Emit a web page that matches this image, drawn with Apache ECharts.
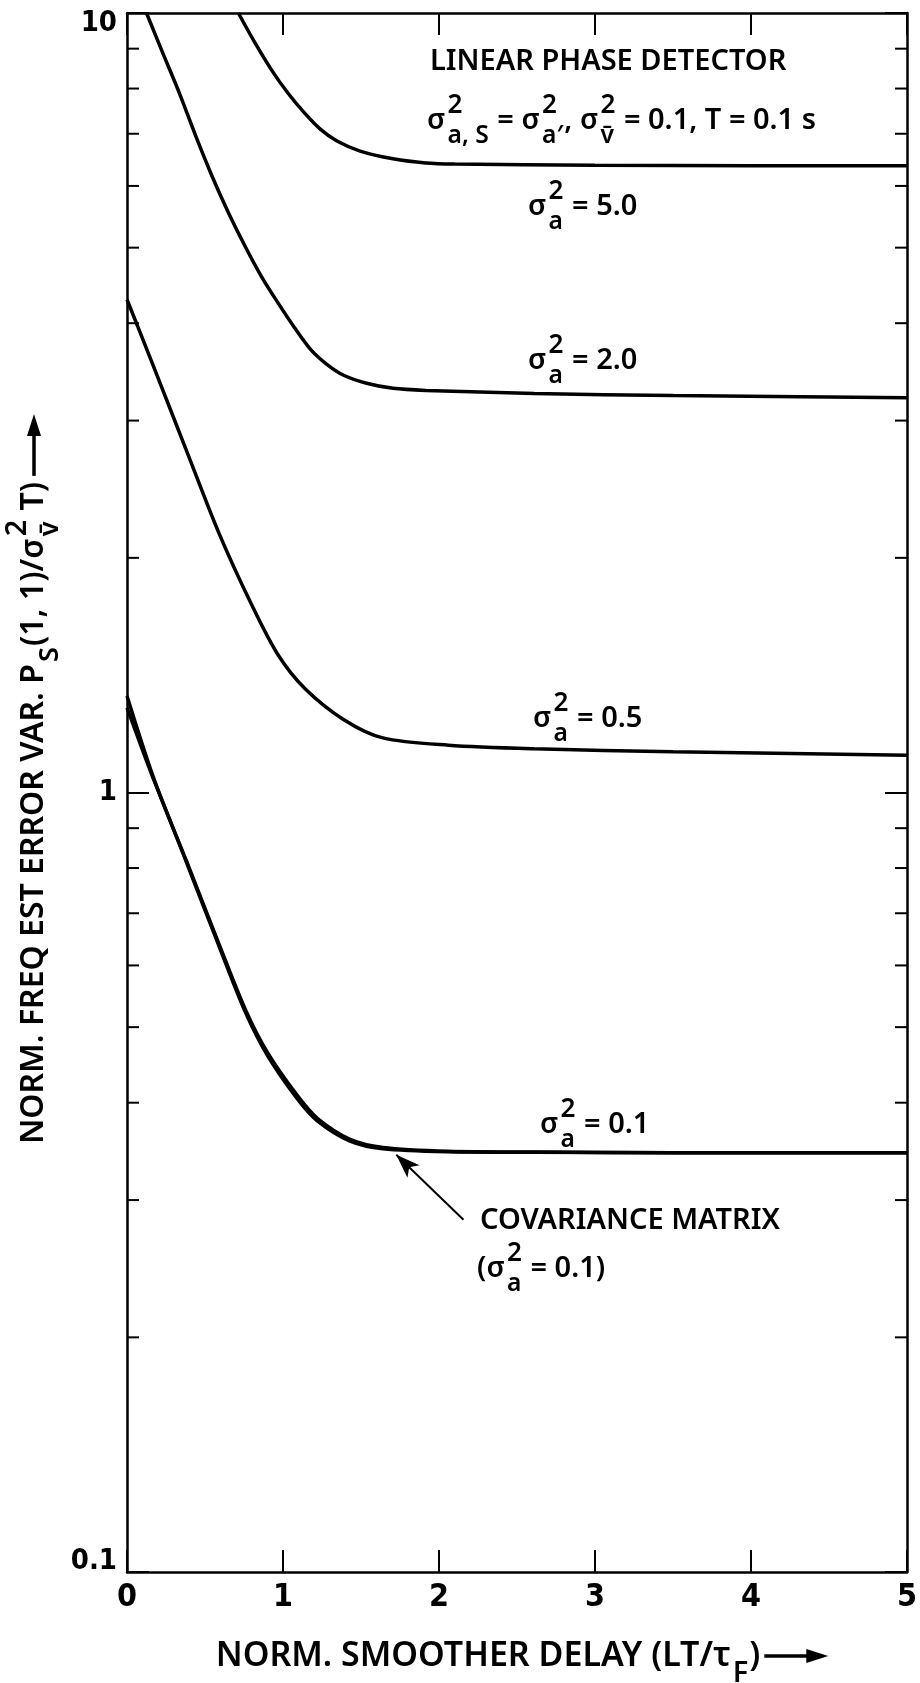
<!DOCTYPE html>
<html>
<head>
<meta charset="utf-8">
<script src="https://cdn.jsdelivr.net/npm/echarts@6/dist/echarts.min.js"></script>
<style>
  html, body { margin: 0; padding: 0; background: #fff; }
  #chart { width: 920px; height: 1683px; }
</style>
</head>
<body>
<div id="chart"></div>
<script>
// Axis ranges and tick values
const X_MIN = 0, X_MAX = 5;
const X_TICKS = [0, 1, 2, 3, 4, 5];
const Y_MIN = 0.1, Y_MAX = 10;
const Y_TICK_LABELS = ['0.1', '1', '10'];
const MINOR_TICKS = [0.2, 0.3, 0.4, 0.5, 0.6, 0.7, 0.8, 0.9, 2, 3, 4, 5, 6, 7, 8, 9];

// sigma_a^2 = 5.0
const delay5 = [0.714, 0.82, 0.925, 1.03, 1.136, 1.241, 1.346, 1.494, 1.705, 1.915, 2.1, 3.0, 4.0, 5.0];
const var5   = [10, 9.16, 8.46, 7.90, 7.45, 7.09, 6.85, 6.65, 6.50, 6.42, 6.40, 6.38, 6.37, 6.37];

// sigma_a^2 = 2.0
const delay2 = [0.125, 0.229, 0.335, 0.441, 0.546, 0.651, 0.757, 0.862, 0.967, 1.073, 1.178, 1.283, 1.389, 1.536, 1.705, 1.915, 2.61, 3.5, 5.0];
const var2   = [10, 8.89, 7.90, 6.95, 6.17, 5.54, 5.02, 4.59, 4.25, 3.95, 3.70, 3.54, 3.43, 3.35, 3.30, 3.28, 3.25, 3.23, 3.21];

// sigma_a^2 = 0.5
const delay05 = [0, 0.17, 0.38, 0.59, 0.8, 0.97, 1.14, 1.39, 1.64, 2.06, 2.61, 3.5, 5.0];
const var05   = [4.29, 3.52, 2.75, 2.15, 1.74, 1.50, 1.36, 1.24, 1.175, 1.15, 1.138, 1.128, 1.116];

// sigma_a^2 = 0.1 and the covariance-matrix result for the same case
const delay01 = [0, 0.17, 0.38, 0.59, 0.76, 0.9, 1.09, 1.22, 1.43, 1.64, 2.06, 2.61, 3.5, 5.0];
const var01   = [1.33, 1.045, 0.815, 0.635, 0.522, 0.46, 0.405, 0.379, 0.357, 0.349, 0.346, 0.3455, 0.345, 0.345];
const varCov  = [1.285, 1.04, 0.818, 0.639, 0.526, 0.464, 0.409, 0.382, 0.359, 0.3505, 0.3465, 0.3457, 0.3451, 0.345];

// Pointer from the "COVARIANCE MATRIX" note to its curve (data units)
const POINTER_TAIL = [2.157, 0.283];
const POINTER_TIP  = [1.726, 0.343];

const zip = (xs, ys) => xs.map((x, i) => [x, ys[i]]);

const FAMILY = '"Noto Sans", "DejaVu Sans", sans-serif';
const WEIGHT = 600;
const INK = '#000';

const measureCtx = document.createElement('canvas').getContext('2d');
function textWidth(str, size) {
  measureCtx.font = WEIGHT + ' ' + size + 'px ' + FAMILY;
  return measureCtx.measureText(str).width;
}
function textEl(text, x, y, size) {
  return {
    type: 'text', x: x, y: y, silent: true,
    style: { text: text, fill: INK, font: WEIGHT + ' ' + size + 'px ' + FAMILY, align: 'left', verticalAlign: 'middle' }
  };
}
// Lays out a formula from plain strings and stacked {sup, sub} pairs,
// starting at x = 0 with the text's middle line at y = 0.
function formula(tokens, size) {
  const children = [];
  let x = 0;
  const supSize = size * 0.9, subSize = size * 0.85;
  tokens.forEach(function (tok) {
    if (typeof tok === 'string') {
      children.push(textEl(tok, x, 0, size));
      x += textWidth(tok, size);
    } else {
      let w = 0;
      if (tok.sup) {
        children.push(textEl(tok.sup, x + 2, -size * 0.52, supSize));
        w = Math.max(w, textWidth(tok.sup, supSize));
      }
      if (tok.sub) {
        children.push(textEl(tok.sub, x + 2, size * 0.52, subSize));
        w = Math.max(w, textWidth(tok.sub, subSize));
      }
      x += w + 3;
    }
  });
  return { children: children, width: x };
}
function arrowParts(x0, len, head, halfW, lw) {
  return [
    { type: 'line', silent: true, shape: { x1: x0, y1: 0, x2: x0 + len - head + 2, y2: 0 }, style: { stroke: INK, lineWidth: lw } },
    { type: 'polygon', silent: true, shape: { points: [[x0 + len - head, -halfW], [x0 + len, 0], [x0 + len - head, halfW]] }, style: { fill: INK } }
  ];
}
function placed(tokens, size, left, midY) {
  const f = formula(tokens, size);
  return { type: 'group', x: left, y: midY, children: f.children };
}

const SIG = 'σ';
const sa = { sup: '2', sub: 'a' };

const graphics = [];
graphics.push(placed(['LINEAR PHASE DETECTOR'], 29, 430, 62));
graphics.push(placed([SIG, { sup: '2', sub: 'a, S' }, ' = ' + SIG, { sup: '2', sub: 'a′' }, ', ' + SIG, { sup: '2', sub: 'v\u0304' }, ' = 0.1, T = 0.1 s'], 29, 427, 121));
graphics.push(placed([SIG, sa, ' = 5.0'], 29, 528, 207));
graphics.push(placed([SIG, sa, ' = 2.0'], 29, 528, 361));
graphics.push(placed([SIG, sa, ' = 0.5'], 29, 533, 719));
graphics.push(placed([SIG, sa, ' = 0.1'], 29, 540, 1125));
graphics.push(placed(['COVARIANCE MATRIX'], 29, 480, 1221));
graphics.push(placed(['(' + SIG, sa, ' = 0.1)'], 29, 477, 1269));

// x-axis title with arrow, centred under the plot
(function () {
  const f = formula(['NORM. SMOOTHER DELAY (LT/τ', { sub: 'F' }, ')'], 34);
  const parts = f.children.concat(arrowParts(f.width + 4, 64, 22, 7, 3.5));
  const total = f.width + 68;
  graphics.push({ type: 'group', x: 522 - total / 2, y: 1656, children: parts });
})();

// y-axis title, rotated, reading bottom to top
(function () {
  const f = formula(['NORM. FREQ EST ERROR VAR. P', { sub: 'S' }, '(1, 1)/' + SIG, { sup: '2', sub: 'v\u0304' }, ' T)'], 32);
  const parts = f.children.concat(arrowParts(f.width + 6, 62, 22, 7, 3.5));
  const total = f.width + 68;
  graphics.push({
    type: 'group', x: 34, y: 779, rotation: Math.PI / 2,
    children: [{ type: 'group', x: -total / 2, y: 0, children: parts }]
  });
})();

const lineStyle = { color: INK, width: 3.5 };
function curve(name, xs, ys) {
  return {
    name: name, type: 'line', data: zip(xs, ys), showSymbol: false, symbol: 'none',
    smooth: 0.3, lineStyle: lineStyle, itemStyle: { color: INK }, silent: true, z: 5
  };
}

const tickLabelFont = { color: INK, fontFamily: '"Liberation Sans Narrow", "DejaVu Sans Condensed", sans-serif', fontWeight: 'bold' };

const chart = echarts.init(document.getElementById('chart'), null, { renderer: 'canvas' });
chart.setOption({
  animation: false,
  backgroundColor: '#fff',
  grid: { left: 127, right: 3, top: 13, bottom: 111, containLabel: false },
  xAxis: [{
    type: 'value', min: X_MIN, max: X_MAX, interval: 1, position: 'bottom',
    axisLine: { show: true, onZero: false, lineStyle: { color: INK, width: 2.5 } },
    axisTick: { show: true, inside: true, length: 22, lineStyle: { color: INK, width: 2 } },
    axisLabel: {
      show: true, margin: 10, fontSize: 32, ...tickLabelFont,
      formatter: function (v) { return X_TICKS.indexOf(v) >= 0 ? String(v) : ''; }
    },
    splitLine: { show: false }
  }, {
    type: 'value', min: X_MIN, max: X_MAX, interval: 1, position: 'top',
    axisLine: { show: true, onZero: false, lineStyle: { color: INK, width: 2.5 } },
    axisTick: { show: true, inside: true, length: 22, lineStyle: { color: INK, width: 2 } },
    axisLabel: { show: false }, splitLine: { show: false }
  }],
  yAxis: [{
    type: 'log', logBase: 10, min: Y_MIN, max: Y_MAX, position: 'left',
    axisLine: { show: true, onZero: false, lineStyle: { color: INK, width: 2.5 } },
    axisTick: { show: true, inside: true, length: 22, lineStyle: { color: INK, width: 2 } },
    axisLabel: {
      show: true, margin: 10, fontSize: 29, ...tickLabelFont,
      formatter: function (v) {
        const s = v < 1 ? v.toFixed(1) : String(Math.round(v));
        if (s === Y_TICK_LABELS[2]) return '{hi|' + s + '}';
        if (s === Y_TICK_LABELS[0]) return '{lo|' + s + '}';
        return s;
      },
      rich: {
        hi: { fontSize: 29, ...tickLabelFont, padding: [20, 0, 0, 0] },
        lo: { fontSize: 29, ...tickLabelFont, padding: [0, 0, 22, 0] }
      }
    },
    splitLine: { show: false }
  }, {
    type: 'log', logBase: 10, min: Y_MIN, max: Y_MAX, position: 'right',
    axisLine: { show: true, onZero: false, lineStyle: { color: INK, width: 2.5 } },
    axisTick: { show: true, inside: true, length: 22, lineStyle: { color: INK, width: 2 } },
    axisLabel: { show: false }, splitLine: { show: false }
  }],
  series: [
    curve('σa² = 5.0', delay5, var5),
    curve('σa² = 2.0', delay2, var2),
    curve('σa² = 0.5', delay05, var05),
    curve('σa² = 0.1', delay01, var01),
    Object.assign(curve('Covariance matrix (σa² = 0.1)', delay01, varCov), {
      markLine: {
        silent: true, symbol: ['none', 'arrow'], symbolSize: [13, 24],
        label: { show: false },
        lineStyle: { color: INK, width: 2, type: 'solid' },
        data: [[{ coord: POINTER_TAIL }, { coord: POINTER_TIP }]]
      }
    }),
    {
      // minor log ticks along the left and right frame
      type: 'custom', silent: true, z: 3,
      encode: { x: 0, y: 1 },
      data: MINOR_TICKS.map(function (v) { return [X_MIN, v]; }),
      renderItem: function (params, api) {
        const v = api.value(1);
        const l = api.coord([X_MIN, v]);
        const r = api.coord([X_MAX, v]);
        return {
          type: 'group', children: [
            { type: 'line', shape: { x1: l[0], y1: l[1], x2: l[0] + 12, y2: l[1] }, style: { stroke: INK, lineWidth: 2 } },
            { type: 'line', shape: { x1: r[0] - 12, y1: r[1], x2: r[0], y2: r[1] }, style: { stroke: INK, lineWidth: 2 } }
          ]
        };
      }
    }
  ],
  graphic: graphics
});
</script>
</body>
</html>
